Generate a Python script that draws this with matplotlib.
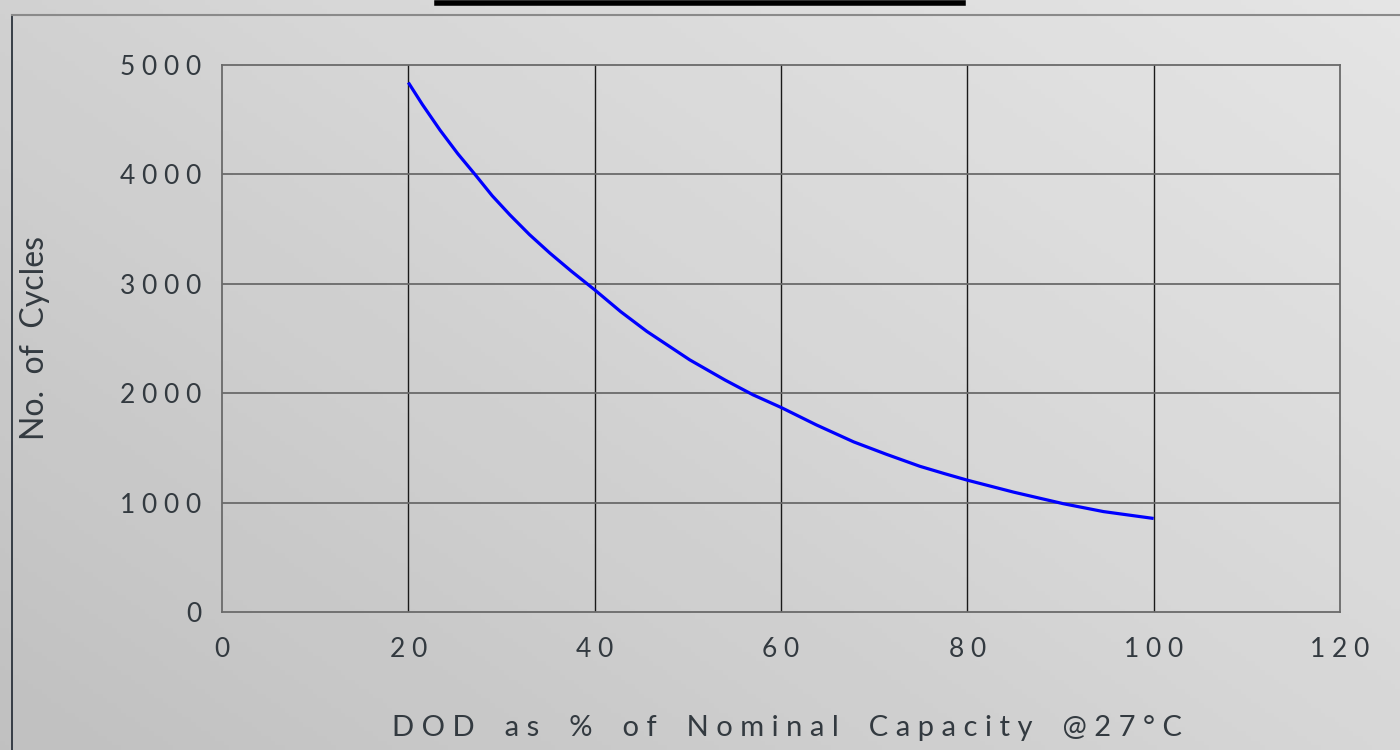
import numpy as np
import matplotlib.pyplot as plt
from matplotlib.lines import Line2D

# DOD (%) vs number of cycles
dod = [20, 21.5, 23.4, 25.3, 27.2, 29, 30.9, 33, 35.2, 37.5, 40, 42.8, 45.6,
       50.2, 54, 57, 60, 63.8, 67.8, 71.3, 74.9, 77.5, 80, 85, 90.3, 94.6, 100]
cycles = [4840, 4640, 4405, 4190, 3995, 3805, 3630, 3450, 3280, 3115, 2945,
          2745, 2565, 2305, 2120, 1985, 1870, 1710, 1555, 1442, 1332, 1266,
          1205, 1095, 990, 918, 855]

x_ticks = [0, 20, 40, 60, 80, 100, 120]
y_ticks = [0, 1000, 2000, 3000, 4000, 5000]

FONT = ['Lato', 'DejaVu Sans']
TXT = '#333a40'


def spaced(s, gap=' '):
    # wide tracking like the original drawing font
    return gap.join(s)


fig = plt.figure(figsize=(14, 7.5), dpi=100)

# soft grey gradient background
bg = fig.add_axes([0, 0, 1, 1], zorder=-10)
gx, gy = np.meshgrid(np.linspace(0, 1, 300), np.linspace(0, 1, 160))
grad = 0.25 * gx + 0.19 * gy
bg.imshow(grad, cmap='Greys_r', vmin=-1.6, vmax=0.9, aspect='auto',
          origin='lower', extent=[0, 1, 0, 1])
bg.set_axis_off()

# panel border and title underline
fig.add_artist(Line2D([12/1400, 12/1400], [0, 1 - 15/750], color='#1e2630', lw=1.2))
fig.add_artist(Line2D([12/1400, 1], [1 - 15/750, 1 - 15/750], color='#8a8a8a', lw=1.5))
fig.add_artist(Line2D([437/1400, 963/1400], [1 - 3/750, 1 - 3/750], color='black', lw=4))

ax = fig.add_axes([222/1400, 138/750, 1118/1400, 547/750])
ax.set_facecolor('none')
ax.plot(dod, cycles, color='#0000ff', lw=2.3, solid_joinstyle='round',
        solid_capstyle='butt', zorder=3)

ax.set_xlim(0, 120)
ax.set_ylim(0, 5000)
ax.set_xticks(x_ticks)
ax.set_yticks(y_ticks)
ax.set_xticklabels([spaced(str(t)) for t in x_ticks])
ax.set_yticklabels([spaced(str(t)) for t in y_ticks])

for v in x_ticks[1:-1]:
    ax.axvline(v, color='#1a1a1a', lw=1.0, zorder=1)
for v in y_ticks[1:-1]:
    ax.axhline(v, color='#6a6a6a', lw=1.3, zorder=1)

for sp in ax.spines.values():
    sp.set_color('#6a6a6a')
    sp.set_linewidth(1.3)

ax.tick_params(length=0, labelsize=19, colors=TXT)
ax.tick_params(axis='x', pad=18)
ax.tick_params(axis='y', pad=15)
for lab in ax.get_xticklabels() + ax.get_yticklabels():
    lab.set_family(FONT)

xlab = '    '.join(spaced(w) for w in 'DOD as % of Nominal Capacity @27°C'.split())
fig.text(787/1400, 1 - 728/750, xlab, fontsize=21, family=FONT, color=TXT,
         ha='center', va='center')
ax.set_ylabel('No.  of  Cycles', fontsize=23, family=FONT, color=TXT)
ax.yaxis.set_label_coords(-0.154, 0.5)

fig.savefig('out.png', dpi=100)
